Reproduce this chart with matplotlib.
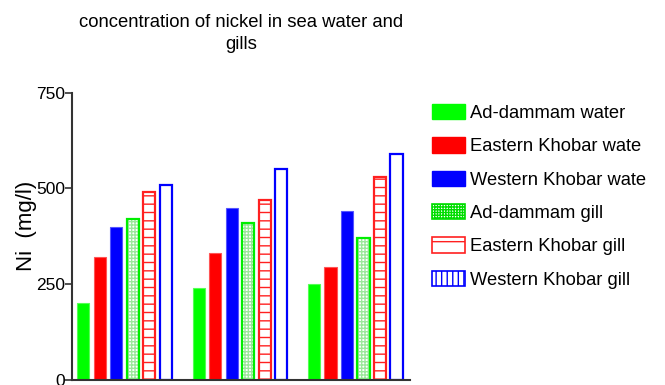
import matplotlib
matplotlib.use("Agg")
import matplotlib.pyplot as plt
from matplotlib.patches import Patch
import numpy as np

plt.rcParams['font.family'] = ['Liberation Sans', 'DejaVu Sans']
plt.rcParams['hatch.linewidth'] = 1.0

# Ni concentration (mg/l) for the three sampling groups
labels = ["Ad-dammam water", "Eastern Khobar wate", "Western Khobar wate",
          "Ad-dammam gill", "Eastern Khobar gill", "Western Khobar gill"]
ad_water = [200, 240, 250]
east_water = [320, 330, 295]
west_water = [400, 450, 440]
ad_gill = [420, 410, 370]
east_gill = [490, 470, 530]
west_gill = [510, 550, 590]
yticks = [0, 250, 500, 750]

fig = plt.figure(figsize=(6.65, 3.85), dpi=100)
ax = fig.add_axes([72 / 665, 5.3 / 385, 338 / 665, 287 / 385])

x = np.arange(3)
step = 1 / 7
w = 0.108

ax.bar(x - 2.5 * step, ad_water, w, color='#00ff00', edgecolor='#55ff55', lw=0.8)
ax.bar(x - 1.5 * step, east_water, w, color='#ff0000', edgecolor='#ff5555', lw=0.8)
ax.bar(x - 0.5 * step, west_water, w, color='#0000ff', edgecolor='#5555ff', lw=0.8)
# dotted green grid fill, then the solid outline on top
ax.bar(x + 0.5 * step, ad_gill, w, color='white', edgecolor='#9be89b', lw=0, hatch='+++++')
ax.bar(x + 0.5 * step, ad_gill, w, color='none', edgecolor='#00ee00', lw=1.6)
ax.bar(x + 1.5 * step, east_gill, w, color='white', edgecolor='#ff2020', lw=1.6, hatch='--')
ax.bar(x + 2.5 * step, west_gill, w, color='white', edgecolor='#0000ff', lw=1.6)

ax.set_xlim(-0.4545, 2.472)
ax.set_ylim(0, 750)
ax.set_yticks(yticks)
ax.set_xticks([])
ax.tick_params(axis='y', length=5, width=1.2, color='#333333', labelsize=12.5, pad=0)
for side in ('top', 'right'):
    ax.spines[side].set_visible(False)
for side in ('left', 'bottom'):
    ax.spines[side].set_color('#333333')
    ax.spines[side].set_linewidth(1.5)

ax.set_ylabel("Ni  (mg/l)", fontsize=16)
ax.yaxis.set_label_coords(-0.104, 0.537)

fig.text(241 / 665, 1 - 14 / 385, "concentration of nickel in sea water and\ngills",
         ha='center', va='top', fontsize=13.3, linespacing=1.35)

handles = [
    Patch(facecolor='#00ff00', edgecolor='#00ff00'),
    Patch(facecolor='#ff0000', edgecolor='#ff0000'),
    Patch(facecolor='#0000ff', edgecolor='#0000ff'),
    Patch(facecolor='white', edgecolor='#00dd00', hatch='++++++', lw=1.2),
    Patch(facecolor='white', edgecolor='#ff2020', hatch='-', lw=1.2),
    Patch(facecolor='white', edgecolor='#0000ff', hatch='|||', lw=1.2),
]
fig.legend(handles, labels, loc='upper left', bbox_to_anchor=(432 / 665, 1 - 104 / 385),
           frameon=False, fontsize=13.2, handlelength=1.8, handleheight=0.9,
           handletextpad=0.25, labelspacing=0.84, borderpad=0, borderaxespad=0)

fig.savefig("out.png", dpi=100)
